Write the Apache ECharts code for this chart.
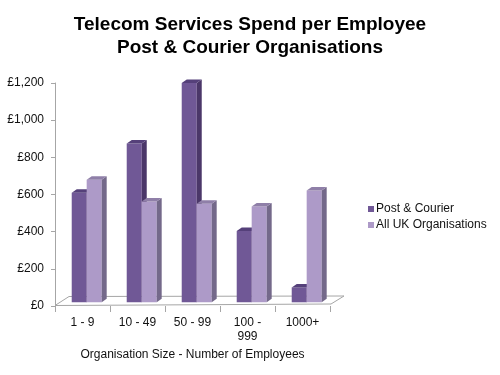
<!DOCTYPE html>
<html>
<head>
<meta charset="utf-8">
<script src="https://cdn.jsdelivr.net/npm/echarts@6/dist/echarts.min.js"></script>
<style>html,body{margin:0;padding:0;background:#fff;}#c{width:500px;height:375px;}</style>
</head>
<body>
<div id="c"></div>
<script>
var categories = ['1 - 9', '10 - 49', '50 - 99', '100 -\n999', '1000+'];
var postCourier = [590, 855, 1180, 384, 80];
var allUK = [660, 543, 530, 516, 602];
var seriesNames = ['Post & Courier', 'All UK Organisations'];

var chart = echarts.init(document.getElementById('c'), null, {renderer: 'canvas'});

function barRender(offsetFrac, front, side, top) {
  return function (params, api) {
    var c = api.coord([api.value(0), api.value(1)]);
    var base = api.coord([api.value(0), 0]);
    var band = api.size([1, 0])[0];
    var w = band * 0.273;
    var x0 = c[0] + band * offsetFrac;
    var sy = -3.7;
    var yTop = c[1] + sy, yBot = base[1] + sy;
    var dx = 5, dy = -3.5;
    return {
      type: 'group',
      children: [
        {type: 'rect', shape: {x: x0, y: yTop, width: w, height: yBot - yTop}, style: {fill: front}},
        {type: 'polygon', shape: {points: [[x0 + w, yTop], [x0 + w + dx, yTop + dy], [x0 + w + dx, yBot + dy], [x0 + w, yBot]]}, style: {fill: side}},
        {type: 'polygon', shape: {points: [[x0, yTop], [x0 + dx, yTop + dy], [x0 + w + dx, yTop + dy], [x0 + w, yTop]]}, style: {fill: top}}
      ]
    };
  };
}

function floorRender(params, api) {
  var cs = params.coordSys;
  var l = cs.x, r = cs.x + cs.width, b = cs.y + cs.height;
  return {
    type: 'polygon',
    shape: {points: [[l, b - 0.5], [r + 1, b - 2], [r + 14, b - 10], [l + 14, b - 9.5]]},
    style: {fill: '#ffffff', stroke: '#a6a6a6', lineWidth: 1}
  };
}

var option = {
  backgroundColor: '#ffffff',
  animation: false,
  title: {
    text: 'Telecom Services Spend per Employee\nPost & Courier Organisations',
    left: 'center',
    top: 8,
    textStyle: {fontFamily: 'Liberation Sans', fontSize: 19, fontWeight: 'bold', color: '#000', lineHeight: 23}
  },
  legend: {
    orient: 'vertical',
    left: 363,
    top: 198,
    itemWidth: 6,
    itemHeight: 6,
    itemGap: 4,
    icon: 'rect',
    textStyle: {fontFamily: 'Liberation Sans', fontSize: 12, color: '#111', padding: [0, 0, 0, -3]},
    data: seriesNames
  },
  grid: {left: 55, right: 170, top: 83, bottom: 69},
  xAxis: {
    type: 'category',
    data: categories,
    boundaryGap: true,
    axisLine: {show: false},
    axisTick: {show: true, length: 6, lineStyle: {color: '#a6a6a6'}},
    axisLabel: {fontFamily: 'Liberation Sans', fontSize: 12, color: '#111', margin: 10, lineHeight: 14},
    name: 'Organisation Size - Number of Employees',
    nameLocation: 'middle',
    nameGap: 43,
    nameTextStyle: {fontFamily: 'Liberation Sans', fontSize: 12, color: '#111'}
  },
  yAxis: {
    type: 'value',
    min: 0,
    max: 1200,
    interval: 200,
    axisLine: {show: true, lineStyle: {color: '#a6a6a6'}},
    axisTick: {show: true, length: 4, lineStyle: {color: '#a6a6a6'}},
    splitLine: {show: false},
    axisLabel: {
      fontFamily: 'Liberation Sans', fontSize: 12, color: '#111', margin: 11,
      formatter: function (v) { return '£' + v.toLocaleString('en-GB'); }
    }
  },
  series: [
    {
      type: 'custom', name: 'floor', silent: true, z: 1,
      renderItem: floorRender, data: [[0, 0]]
    },
    {
      type: 'custom', name: seriesNames[0], z: 2,
      itemStyle: {color: '#705896'},
      renderItem: barRender(-0.196, '#705896', '#4b3769', '#55407a'),
      data: postCourier.map(function (v, i) { return [i, v]; })
    },
    {
      type: 'custom', name: seriesNames[1], z: 3,
      itemStyle: {color: '#ad9ac8'},
      renderItem: barRender(0.076, '#ad9ac8', '#74698a', '#8f7fa8'),
      data: allUK.map(function (v, i) { return [i, v]; })
    }
  ]
};
chart.setOption(option);
</script>
</body>
</html>
